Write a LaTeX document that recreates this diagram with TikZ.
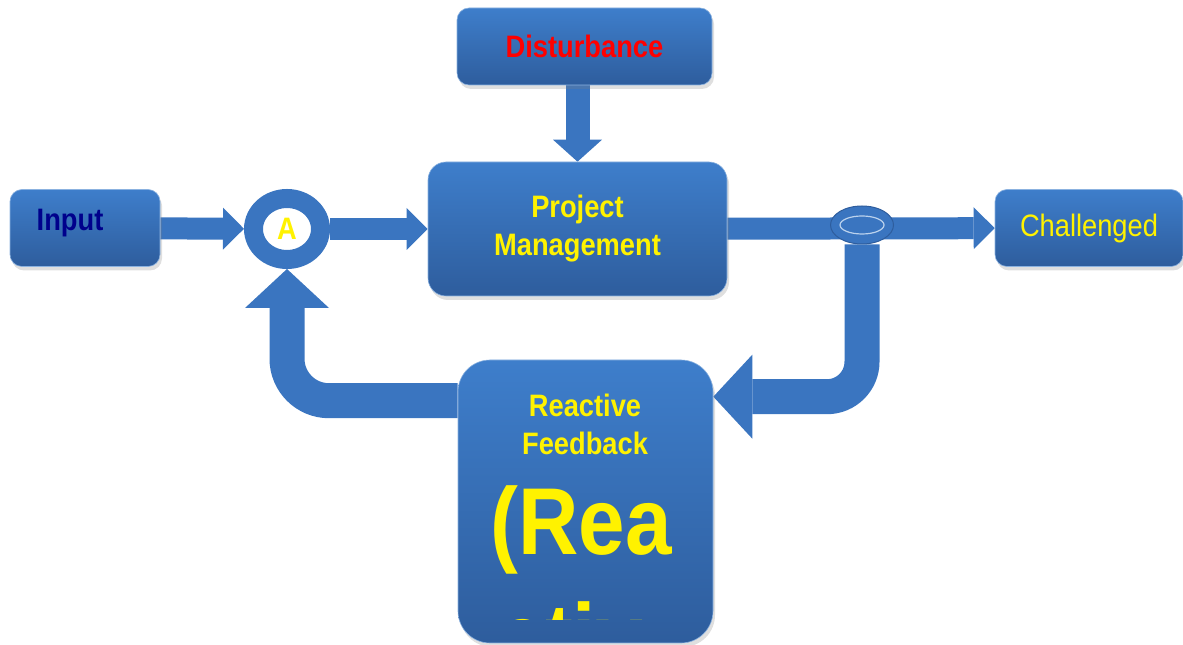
\documentclass[tikz,border=0pt]{standalone}
\usepackage{fontspec}
\setmainfont[FakeStretch=0.88]{Liberation Sans}
\usetikzlibrary{arrows.meta,shapes.geometric,shadows,backgrounds}
\definecolor{boxtop}{RGB}{62,126,203}
\definecolor{boxbot}{RGB}{46,93,157}
\definecolor{pipeblue}{RGB}{58,117,192}
\definecolor{inputblue}{RGB}{0,0,140}
\begin{document}
\begin{tikzpicture}[x=1pt,y=1pt,
    box/.style={rectangle, rounded corners=#1, inner sep=0pt,
      top color=boxtop, bottom color=boxbot, draw=boxtop!60!white, line width=0.6pt,
      drop shadow={shadow xshift=2pt, shadow yshift=-4pt, opacity=0.25}},
    box/.default=12pt,
    boxtext/.style={font=\fontsize{31}{38}\selectfont\bfseries, text=yellow, align=center},
    pipe/.style={draw=pipeblue, line width=#1},
    fat/.style={pipe=22pt, -{Triangle[width=42pt,length=21pt,line width=0pt]}},
    fatter/.style={pipe=35pt, -{Triangle[width=84pt,length=39pt,line width=0pt]}}
  ]
  \useasboundingbox (0,0) rectangle (1183,645);

  \node[box, minimum width=150pt, minimum height=77pt] (input) at (85,417) {};
  \node[boxtext, text=inputblue] (inputlbl) at (70,422) {Input};

  \node[ellipse, draw=pipeblue, line width=19pt, fill=white, inner sep=0pt,
    minimum width=67pt, minimum height=61pt, boxtext] (sum) at (287,416) {A};

  \node[box=18pt, minimum width=299pt, minimum height=134pt, boxtext] (pm) at (577.5,416) {Project\\Management};

  \node[box, minimum width=255pt, minimum height=77pt, boxtext, text=red] (dist) at (584.5,598.5) {Disturbance};

  \node[box, minimum width=188pt, minimum height=77pt, text=yellow,
    font=\fontsize{31}{38}\selectfont] (chal) at (1089,417) {Challenged};

  \node[ellipse, fill=pipeblue, draw=boxbot, line width=1pt,
    minimum width=63pt, minimum height=38pt] (junc) at (862,420) {};
  \draw[boxtop!35!white, line width=1.2pt, fill=pipeblue] (junc) ellipse (22pt and 9pt);

  \node[box=32pt, minimum width=255pt, minimum height=283pt] (fb) at (585.5,143.5) {};
  \node[boxtext] (fbhead) at (585,221) {Reactive\\Feedback};
  \begin{scope}
    \clip ([yshift=-260pt]fb.north west) rectangle (fb.north east);
    \node[boxtext, font=\fontsize{95}{115}\selectfont\bfseries, anchor=base] (fbbig) at (581,90) {(Rea};
    \node[boxtext, font=\fontsize{95}{115}\selectfont\bfseries, anchor=base west] (fbcut) at (495,-25) {ctiv};
  \end{scope}

  \begin{pgfonlayer}{background}
    \draw[fat] (input) -- (sum);
    \draw[fat] (sum) -- (pm);
    \draw[pipe=24pt, -{Triangle[width=49pt,length=22pt,line width=0pt]}] (pm.north |- dist.south) -- (pm.north);
    \draw[fat] (pm) -- (chal);
    \draw[fatter, rounded corners=42pt] ([yshift=-41pt]fb.north west) -| (sum);
    \draw[fatter, rounded corners=35pt] (junc) |- ([yshift=-37pt]fb.north east);
  \end{pgfonlayer}
\end{tikzpicture}
\end{document}
